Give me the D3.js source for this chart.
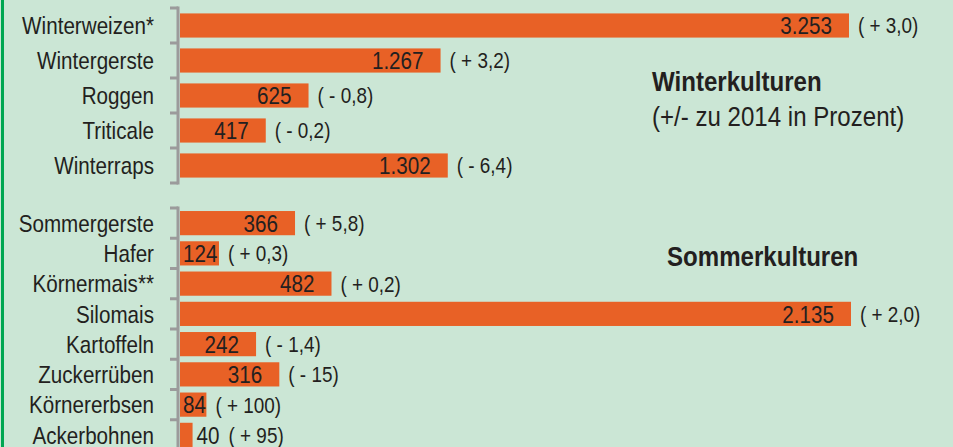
<!DOCTYPE html>
<html>
<head>
<meta charset="utf-8">
<script src="https://cdn.jsdelivr.net/npm/d3@7"></script>
<style>
  html, body { margin: 0; padding: 0; background: #cbe6d5; }
  svg { display: block; }
  text { font-family: "Liberation Sans", Arial, sans-serif; fill: #231f20; }
</style>
</head>
<body>
<div class="chart-container"></div>
<script>
// Winterkulturen, in 1.000 ha
const winterCrops = ["Winterweizen*", "Wintergerste", "Roggen", "Triticale", "Winterraps"];
const winterValues = [3253, 1267, 625, 417, 1302];
const winterChange = [3.0, 3.2, -0.8, -0.2, -6.4];

// Sommerkulturen
const summerCrops = ["Sommergerste", "Hafer", "Körnermais**", "Silomais", "Kartoffeln", "Zuckerrüben", "Körnererbsen", "Ackerbohnen"];
const summerValues = [366, 124, 482, 2135, 242, 316, 84, 40];
const summerChange = [5.8, 0.3, 0.2, 2.0, -1.4, -15, 100, 95];

const width = 953;
const height = 447;
const barX0 = 180;
const labelX = 154;
const narrow = 0.86; // squeeze Liberation Sans to look like a condensed face

const de = d3.formatLocale({ decimal: ",", thousands: ".", grouping: [3], currency: ["", " €"] });
const fmtValue = de.format(",d");
const fmtChange = v => {
    const s = Math.abs(v) >= 10 ? de.format("d")(Math.abs(v)) : de.format(".1f")(Math.abs(v));
    return `( ${v < 0 ? "-" : "+"} ${s})`;
};
const place = (x, y) => `translate(${x},${y}) scale(${narrow},1)`;

const svg = d3.select(".chart-container")
    .append("svg")
        .attr("width", width)
        .attr("height", height);

// green rule on the left edge
svg.append("rect")
    .attr("x", 1).attr("y", 0)
    .attr("width", 3).attr("height", height)
    .attr("fill", "#00a651");

function drawGroup(crops, values, change, yRange, xRight, padInner) {
    const rows = crops.map((c, i) => ({ name: c, value: values[i], change: change[i] }));

    const yScale = d3.scaleBand()
        .domain(crops)
        .range(yRange)
        .paddingInner(padInner)
        .paddingOuter(padInner / 2);
    const xScale = d3.scaleLinear()
        .domain([0, d3.max(values)])
        .range([barX0, xRight]);
    const midY = d => yScale(d.name) + yScale.bandwidth() / 2;

    const g = svg.append("g");

    // bracket: vertical line with ticks at the band boundaries
    const step = yScale.step();
    const r0 = yScale.range()[0];
    const bounds = d3.range(crops.length + 1).map(i => r0 + i * step);
    g.append("line")
        .attr("x1", 178).attr("x2", 178)
        .attr("y1", bounds[0] - 1.5).attr("y2", bounds[bounds.length - 1] + 1.5)
        .attr("stroke", "#9b9b9b").attr("stroke-width", 3);
    g.selectAll(".tick-mark")
        .data(bounds)
        .join("line")
            .attr("class", "tick-mark")
            .attr("x1", 170).attr("x2", 178)
            .attr("y1", d => d).attr("y2", d => d)
            .attr("stroke", "#9b9b9b").attr("stroke-width", 3);

    // category labels
    g.selectAll(".cat")
        .data(rows)
        .join("text")
            .attr("class", "cat")
            .attr("transform", d => place(labelX, midY(d)))
            .attr("dy", "0.36em")
            .attr("text-anchor", "end")
            .attr("font-size", 24)
            .text(d => d.name);

    // bars
    g.selectAll(".bar")
        .data(rows)
        .join("rect")
            .attr("class", "bar")
            .attr("x", barX0)
            .attr("y", d => yScale(d.name))
            .attr("width", d => xScale(d.value) - barX0)
            .attr("height", yScale.bandwidth())
            .attr("fill", "#e86126");

    // value labels, inside the bar end where they fit
    g.selectAll(".val")
        .data(rows)
        .join("text")
            .attr("class", "val")
            .attr("dy", "0.36em")
            .attr("font-size", 24)
            .text(d => fmtValue(d.value))
            .each(function(d) {
                const w = this.getComputedTextLength() * narrow;
                const end = xScale(d.value);
                let x;
                if (end - barX0 < w) {
                    x = end + 4; // outside
                } else {
                    x = Math.min(Math.max(end - 17 - w, barX0 + 3), end - w);
                }
                d.labelEnd = Math.max(x + w, end);
                d3.select(this).attr("transform", place(x, midY(d)));
            });

    // change labels
    g.selectAll(".chg")
        .data(rows)
        .join("text")
            .attr("class", "chg")
            .attr("transform", d => place(d.labelEnd + 9, midY(d)))
            .attr("dy", "0.36em")
            .attr("font-size", 22)
            .text(d => fmtChange(d.change));
}

drawGroup(winterCrops, winterValues, winterChange, [8, 183], 849, 0.31);
drawGroup(summerCrops, summerValues, summerChange, [208, 450], 851, 0.2);

// group titles
svg.append("text")
    .attr("transform", place(652, 91))
    .attr("font-size", 28)
    .attr("font-weight", "bold")
    .text("Winterkulturen");
svg.append("text")
    .attr("transform", place(652, 126))
    .attr("font-size", 28)
    .text("(+/- zu 2014 in Prozent)");
svg.append("text")
    .attr("transform", place(667, 266))
    .attr("font-size", 28)
    .attr("font-weight", "bold")
    .text("Sommerkulturen");
</script>
</body>
</html>
